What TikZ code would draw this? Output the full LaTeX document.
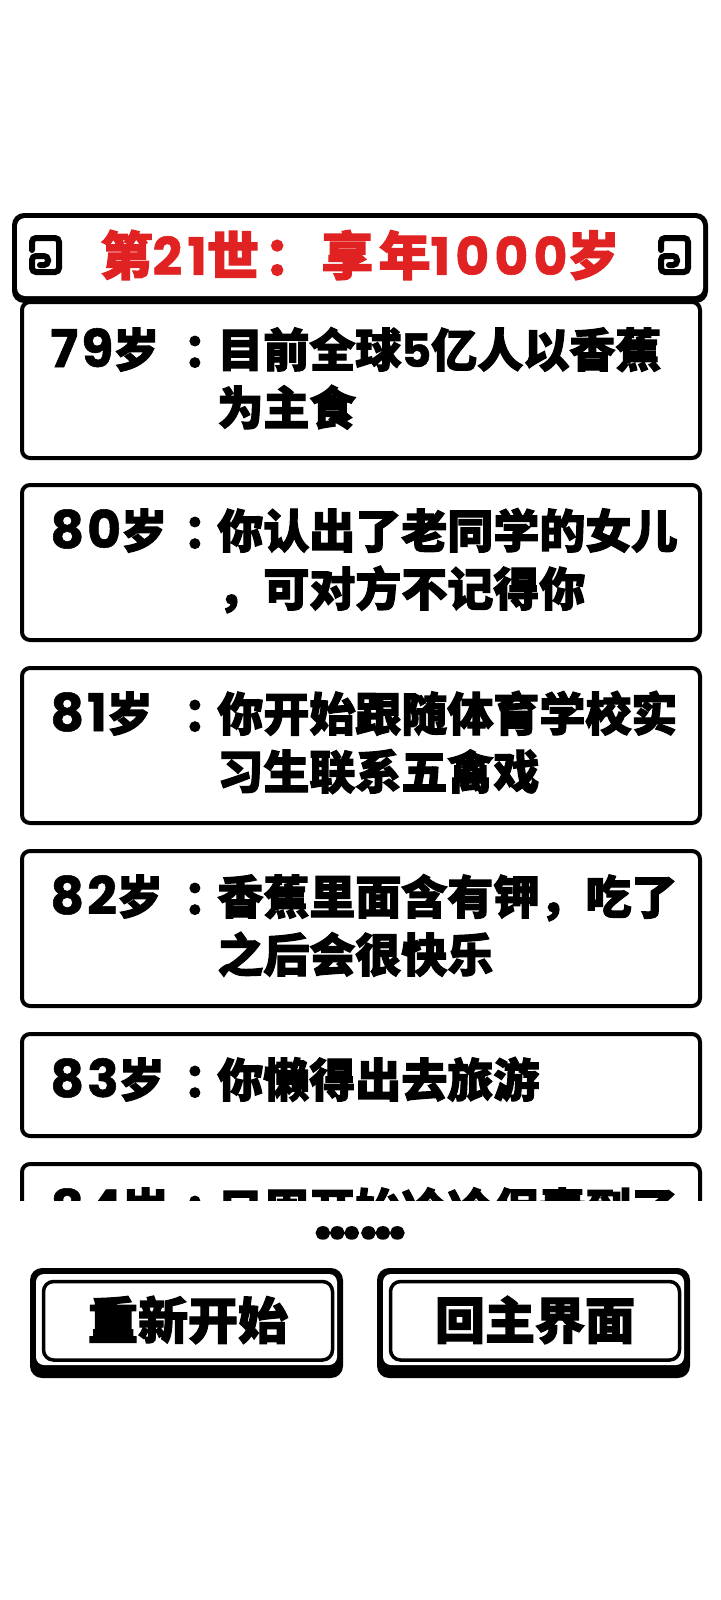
\documentclass[tikz,border=0pt]{standalone}
\usepackage{fontspec}
\newfontfamily\cjk{Noto Sans CJK SC}[BoldFeatures={FakeBold=2.5}]
\newfontfamily\num{Poppins}[BoldFeatures={FakeBold=1}]
\newfontfamily\dotfont{Poppins}[BoldFeatures={FakeBold=4}]
\definecolor{hdrred}{RGB}{224,34,34}
\newcommand{\agenum}[1]{{\fontsize{26pt}{30pt}\selectfont\num\addfontfeatures{LetterSpace=6}#1}}
\tikzset{
  cardbox/.style={draw=black, line width=2pt, fill=white, rounded corners=4pt},
  agetxt/.style={anchor=base west, inner sep=0pt, font=\bfseries\fontsize{23pt}{27pt}\selectfont},
  coltxt/.style={anchor=base west, inner sep=0pt, font=\cjk\bfseries\fontsize{23pt}{27pt}\selectfont},
  bodytxt/.style={anchor=base west, inner sep=0pt, font=\cjk\bfseries\fontsize{23pt}{27pt}\selectfont},
  hdrtxt/.style={inner sep=0pt, text=hdrred, font=\bfseries\fontsize{26pt}{30pt}\selectfont},
  btntxt/.style={inner sep=0pt, font=\cjk\bfseries\fontsize{25pt}{29pt}\selectfont},
  iconline/.style={draw=black, line width=3pt, rounded corners=2pt, line cap=round},
}
\begin{document}
\begin{tikzpicture}[x=0.5pt,y=-0.5pt]
\useasboundingbox (0,0) rectangle (720,1600);
\fill[white] (0,0) rectangle (720,1600);

% ---------- scrolling list of cards ----------
\begin{scope}
\clip (0,300) rectangle (720,1200);
% card 1
\draw[cardbox] (22,302) rectangle (700,458);
\node[agetxt] (a1) at (50,367) {\agenum{79}\cjk 岁};
\node[coltxt] (k1) at (183,367) {：};
\node[bodytxt] (l1a) at (217,367) {目前全球{\num 5}亿人以香蕉};
\node[bodytxt] (l1b) at (217,425) {为主食};
% card 2
\draw[cardbox] (22,485) rectangle (700,640);
\node[agetxt] (a2) at (50,548) {\agenum{80}\cjk 岁};
\node[coltxt] (k2) at (183,548) {：};
\node[bodytxt] (l2a) at (217,548) {你认出了老同学的女儿};
\node[bodytxt] (l2b) at (217,606) {，可对方不记得你};
% card 3
\draw[cardbox] (22,668) rectangle (700,823);
\node[agetxt] (a3) at (50,731) {\agenum{81}\cjk 岁};
\node[coltxt] (k3) at (183,731) {：};
\node[bodytxt] (l3a) at (217,731) {你开始跟随体育学校实};
\node[bodytxt] (l3b) at (217,789) {习生联系五禽戏};
% card 4
\draw[cardbox] (22,851) rectangle (700,1006);
\node[agetxt] (a4) at (50,914) {\agenum{82}\cjk 岁};
\node[coltxt] (k4) at (183,914) {：};
\node[bodytxt] (l4a) at (217,914) {香蕉里面含有钾，吃了};
\node[bodytxt] (l4b) at (217,972) {之后会很快乐};
% card 5
\draw[cardbox] (22,1034) rectangle (700,1136);
\node[agetxt] (a5) at (50,1097) {\agenum{83}\cjk 岁};
\node[coltxt] (k5) at (183,1097) {：};
\node[bodytxt] (l5a) at (217,1097) {你懒得出去旅游};
% card 6 (cut off)
\draw[cardbox] (22,1164) rectangle (700,1320);
\node[agetxt, text depth=0pt] (a6) at (50,1227) {\agenum{84}\cjk 岁};
\node[coltxt, text depth=0pt] (k6) at (183,1227) {：};
\node[bodytxt, text depth=0pt] (l6a) at (217,1227) {只周开始冷冷保素到了};
\end{scope}

% ---------- header ----------
\fill[black, rounded corners=6pt] (12,213) rectangle (708,303);
\fill[white, rounded corners=4pt] (17,218) rectangle (703,296);
\node[hdrtxt] (title) at (360,255) {\cjk\addfontfeatures{LetterSpace=10}第\num\addfontfeatures{LetterSpace=10}21\cjk\addfontfeatures{LetterSpace=10}世：享年\num\addfontfeatures{LetterSpace=10}1000\cjk 岁};
\draw[iconline] (32,250) -- (32,238) -- (59,238) -- (59,272) -- (32,272) -- (32,256) -- (48,256) -- (48,265) -- (40,265);
\begin{scope}[xshift=314.5pt]
\draw[iconline] (32,250) -- (32,238) -- (59,238) -- (59,272) -- (32,272) -- (32,256) -- (48,256) -- (48,265) -- (40,265);
\end{scope}

% ---------- ellipsis ----------
\node[inner sep=0pt, anchor=base, text height=5pt, text depth=0pt, font=\dotfont\bfseries\fontsize{30pt}{34pt}\selectfont] (dots) at (360,1238) {……};

% ---------- buttons ----------
\fill[black, rounded corners=6pt] (30,1268) rectangle (343,1378);
\fill[white, rounded corners=4pt] (36,1274) rectangle (337,1365);
\draw[line width=1.75pt, rounded corners=5pt] (43.5,1281.5) rectangle (332.5,1360);
\node[btntxt] (restart) at (188,1320) {重新开始};

\fill[black, rounded corners=6pt] (377,1268) rectangle (690,1378);
\fill[white, rounded corners=4pt] (383,1274) rectangle (684,1365);
\draw[line width=1.75pt, rounded corners=5pt] (390.5,1281.5) rectangle (679.5,1360);
\node[btntxt] (home) at (535,1320) {回主界面};
\end{tikzpicture}
\end{document}
